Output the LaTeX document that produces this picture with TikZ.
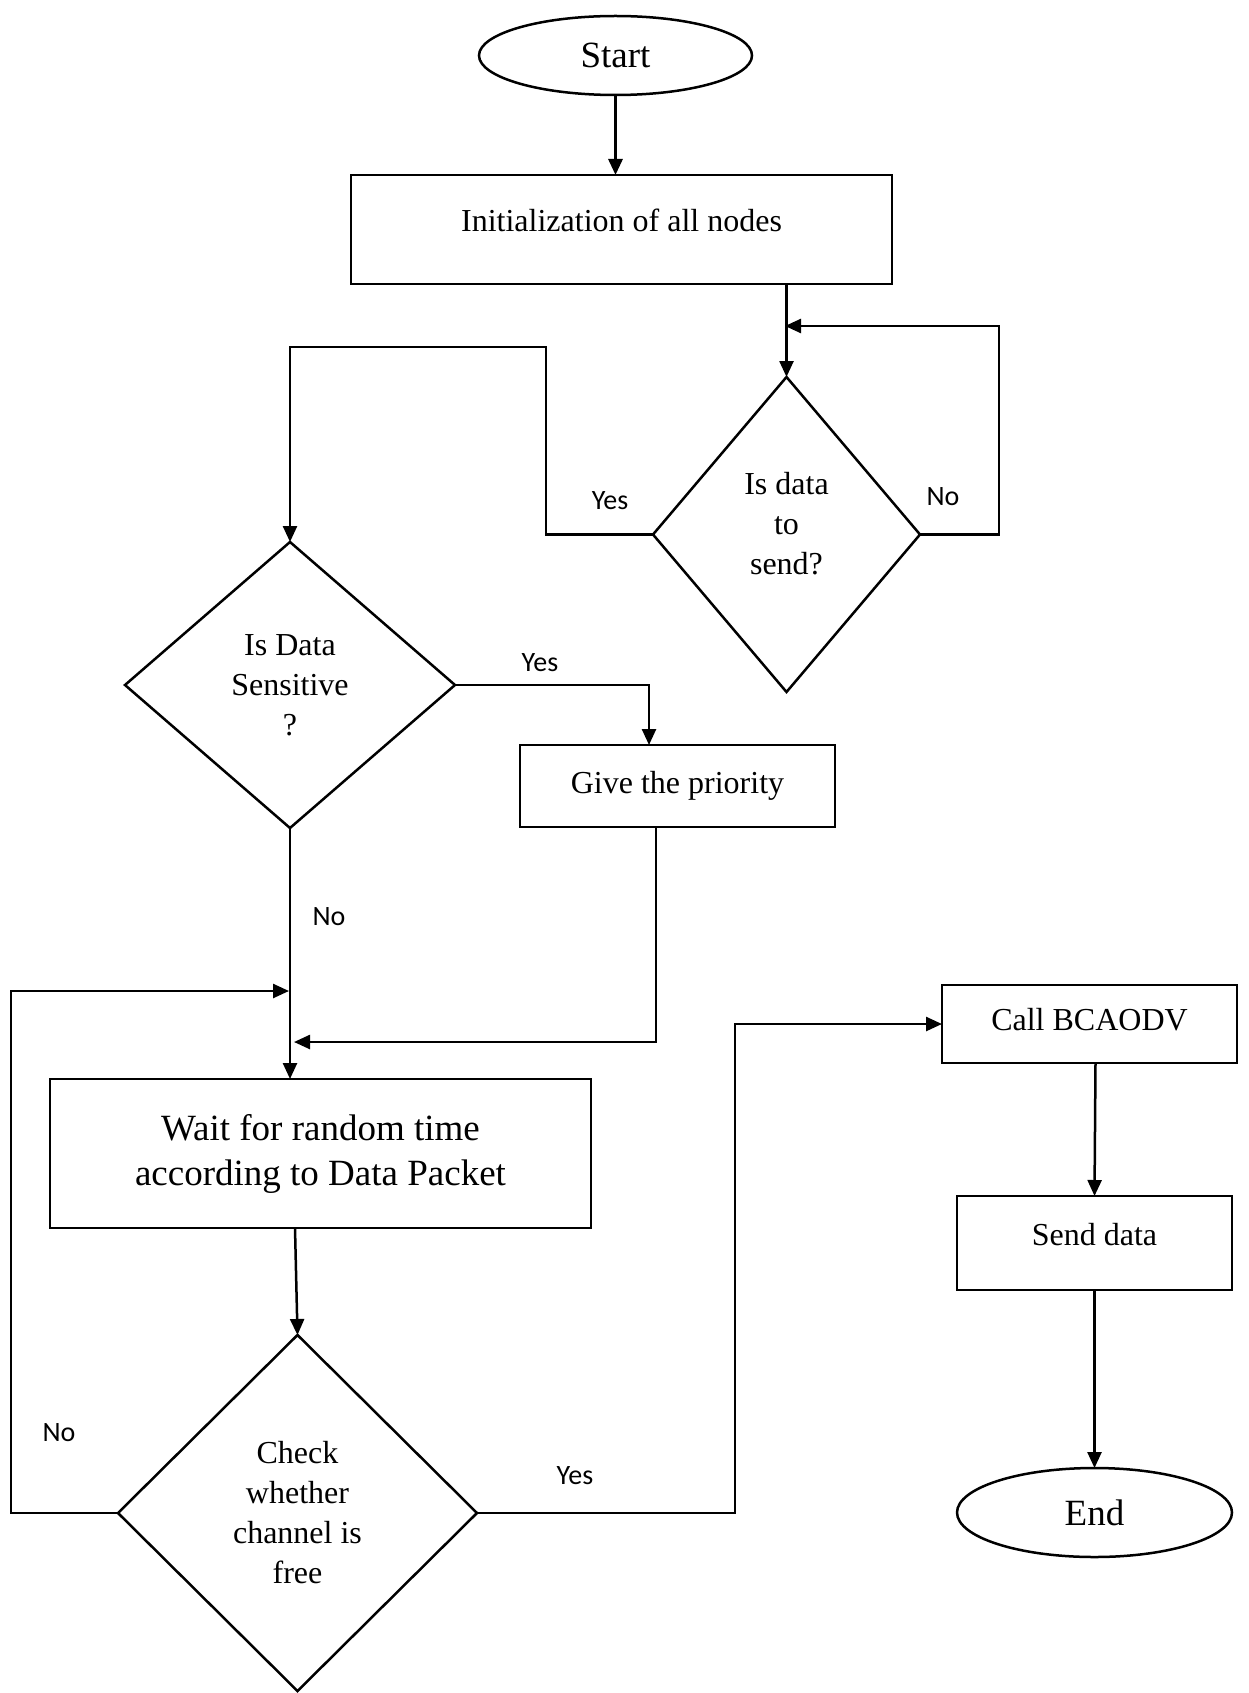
\documentclass[tikz,border=0pt]{standalone}
\usepackage{fontspec}
\setmainfont{Liberation Serif}
\newfontfamily\labelfont{Carlito}
\usetikzlibrary{shapes.geometric,arrows.meta}

\begin{document}
\begin{tikzpicture}[x=1pt,y=-1pt,
  line width=2.5pt,
  every node/.style={inner sep=0pt, outer sep=0pt},
  box/.style={draw, rectangle, align=center, font=\fontsize{32}{40}\selectfont},
  bigbox/.style={draw, rectangle, align=center, font=\fontsize{37}{45}\selectfont},
  terminal/.style={draw, ellipse, font=\fontsize{37}{45}\selectfont},
  decision/.style={draw, diamond, align=center, font=\fontsize{32}{40}\selectfont},
  caption/.style={align=center, font=\fontsize{32}{40}\selectfont},
  tag/.style={font=\labelfont\fontsize{28}{34}\selectfont},
  flow/.style={-{Triangle[length=16pt,width=14pt]}},
  wire/.style={line cap=rect}
]
\useasboundingbox (0,0) rectangle (1248,1693);

% process steps
\node[terminal, minimum width=273pt, minimum height=79pt] (start) at (615.5,55.5) {Start};
\node[box, minimum width=541pt, minimum height=109pt, text depth=19pt] (init) at (621.5,229.5) {Initialization of all nodes};
\node[decision, minimum width=267pt, minimum height=315pt] (d1) at (786.5,534.5) {};
\node[caption] (d1text) at (786.5,524) {Is data\\to\\send?};
\node[decision, minimum width=330pt, minimum height=286pt] (d2) at (290,685) {Is Data\\Sensitive\\?};
\node[box, minimum width=315pt, minimum height=82pt] (prio) at (677.5,786) {Give the priority};
\node[bigbox, minimum width=541pt, minimum height=149pt] (wait) at (320.5,1153.5) {Wait for random time\\according to Data Packet};
\node[decision, minimum width=359pt, minimum height=356pt] (d3) at (297.5,1513) {Check\\whether\\channel is\\free};
\node[box, minimum width=295pt, minimum height=78pt, text depth=10pt] (call) at (1089.5,1024) {Call BCAODV};
\node[box, minimum width=275pt, minimum height=94pt, text depth=18pt] (send) at (1094.5,1243) {Send data};
\node[terminal, minimum width=275pt, minimum height=89pt] (end) at (1094.5,1512.5) {End};

% branch labels
\node[tag] (y1) at (610,501) {Yes};
\node[tag] (n1) at (943,497) {No};
\node[tag] (y2) at (540,663) {Yes};
\node[tag] (n2) at (329,917) {No};
\node[tag] (n3) at (59,1433) {No};
\node[tag] (y3) at (575,1476) {Yes};

% bend points of the connectors
\coordinate (noloop) at (785,326);
\coordinate (yesbend) at (546,347);
\coordinate (prioret) at (656,1042);
\coordinate (waitin) at (289,991);
\coordinate (callin) at (735,1024);

% connectors
\draw[flow, line width=3pt] (start.south) -- (start.south |- init.north);
\draw[flow] (init.south -| d1.north) -- (d1.north);
\draw[flow, wire] (d1.east) -- (999,534.5) -- (999,326) -- (noloop);
\draw[flow, wire] (d1.west) -- (yesbend |- d1.west) -- (yesbend) -- (yesbend -| d2.north) -- (d2.north);
\draw[flow, wire] (d2.east) -- (649,685) -- (649,745);
\draw[flow] (d2.south) -- (d2.south |- wait.north);
\draw[flow, wire] (prioret |- prio.south) -- (prioret) -- (294,1042);
\draw[flow, wire] (d3.west) -- (11,1513) -- (11,991) -- (waitin);
\draw[flow] (295,1228) -- (d3.north);
\draw[flow, wire] (d3.east) -- (callin |- d3.east) -- (callin) -- (call.west);
\draw[flow] ([xshift=6pt]call.south) -- (send.north);
\draw[flow] (send.south) -- (end.north);
\end{tikzpicture}
\end{document}
